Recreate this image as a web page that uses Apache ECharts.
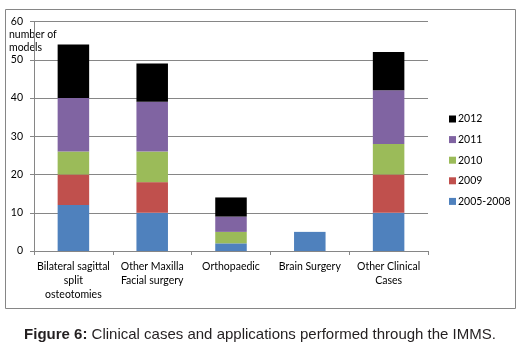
<!DOCTYPE html>
<html><head><meta charset="utf-8">
<script src="https://cdn.jsdelivr.net/npm/echarts@6/dist/echarts.min.js"></script>
<style>html,body{margin:0;padding:0;background:#fff}#c{width:520px;height:342px}</style>
</head><body><div id="c"></div>
<script>
const categories = ['Bilateral sagittal\nsplit\nosteotomies', 'Other Maxilla\nFacial surgery', 'Orthopaedic', 'Brain Surgery', 'Other Clinical\nCases'];
const s2005_2008 = [12, 10, 2, 5, 10];
const s2009 = [8, 8, 0, 0, 10];
const s2010 = [6, 8, 3, 0, 8];
const s2011 = [14, 13, 4, 0, 14];
const s2012 = [14, 10, 5, 0, 10];
const seriesNames = ['2005-2008', '2009', '2010', '2011', '2012'];
const seriesColors = ['#4F81BD', '#C0504D', '#9BBB59', '#8064A2', '#000000'];
const yTicks = [0, 10, 20, 30, 40, 50, 60];

const FONT = 'Lato';
const FS = 10.5;
const values = [s2005_2008, s2009, s2010, s2011, s2012];
const chart = echarts.init(document.getElementById('c'), null, {renderer: 'canvas'});
chart.setOption({
  animation: false,
  backgroundColor: '#fff',
  grid: {left: 34, right: 92, top: 21.5, bottom: 91, containLabel: false},
  legend: {
    orient: 'vertical', left: 444, top: 107,
    data: seriesNames.slice().reverse(),
    itemWidth: 7, itemHeight: 7, itemGap: 6.6,
    icon: 'rect',
    textStyle: {fontFamily: FONT, fontSize: FS, color: '#000', padding: [0, 0, 0, -3], lineHeight: 14}
  },
  xAxis: {
    type: 'category', data: categories,
    axisLine: {lineStyle: {color: '#868686'}},
    axisTick: {show: true, length: 4, lineStyle: {color: '#868686'}},
    axisLabel: {fontFamily: FONT, fontSize: FS, color: '#000', lineHeight: 13.7, margin: 9, interval: 0}
  },
  yAxis: {
    type: 'value', min: yTicks[0], max: yTicks[yTicks.length - 1], interval: 10,
    axisLine: {show: true, lineStyle: {color: '#868686'}},
    axisTick: {show: true, length: 4, lineStyle: {color: '#868686'}},
    splitLine: {lineStyle: {color: '#868686'}},
    axisLabel: {fontFamily: FONT, fontSize: FS, color: '#000', margin: 11}
  },
  series: seriesNames.map((n, i) => ({
    name: n, type: 'bar', stack: 'a', data: values[i], barWidth: '40%',
    itemStyle: {color: seriesColors[i]}
  })),
  graphic: [
    {type: 'rect', shape: {x: 5.5, y: 9.5, width: 510, height: 299}, style: {fill: 'none', stroke: '#868686', lineWidth: 1}, z: -1},
    {type: 'text', left: 9, top: 28.5, style: {text: 'number of\nmodels', font: FS + 'px ' + FONT, fill: '#000', lineHeight: 12.5}},
    {type: 'text', left: 'center', top: 327, style: {
      text: '{b|Figure 6:} Clinical cases and applications performed through the IMMS.',
      rich: {b: {fontFamily: 'Liberation Sans', fontSize: 15, fontWeight: 'bold', fill: '#231f20'}},
      fontFamily: 'Liberation Sans', fontSize: 15, fill: '#231f20'
    }}
  ]
});
</script></body></html>
